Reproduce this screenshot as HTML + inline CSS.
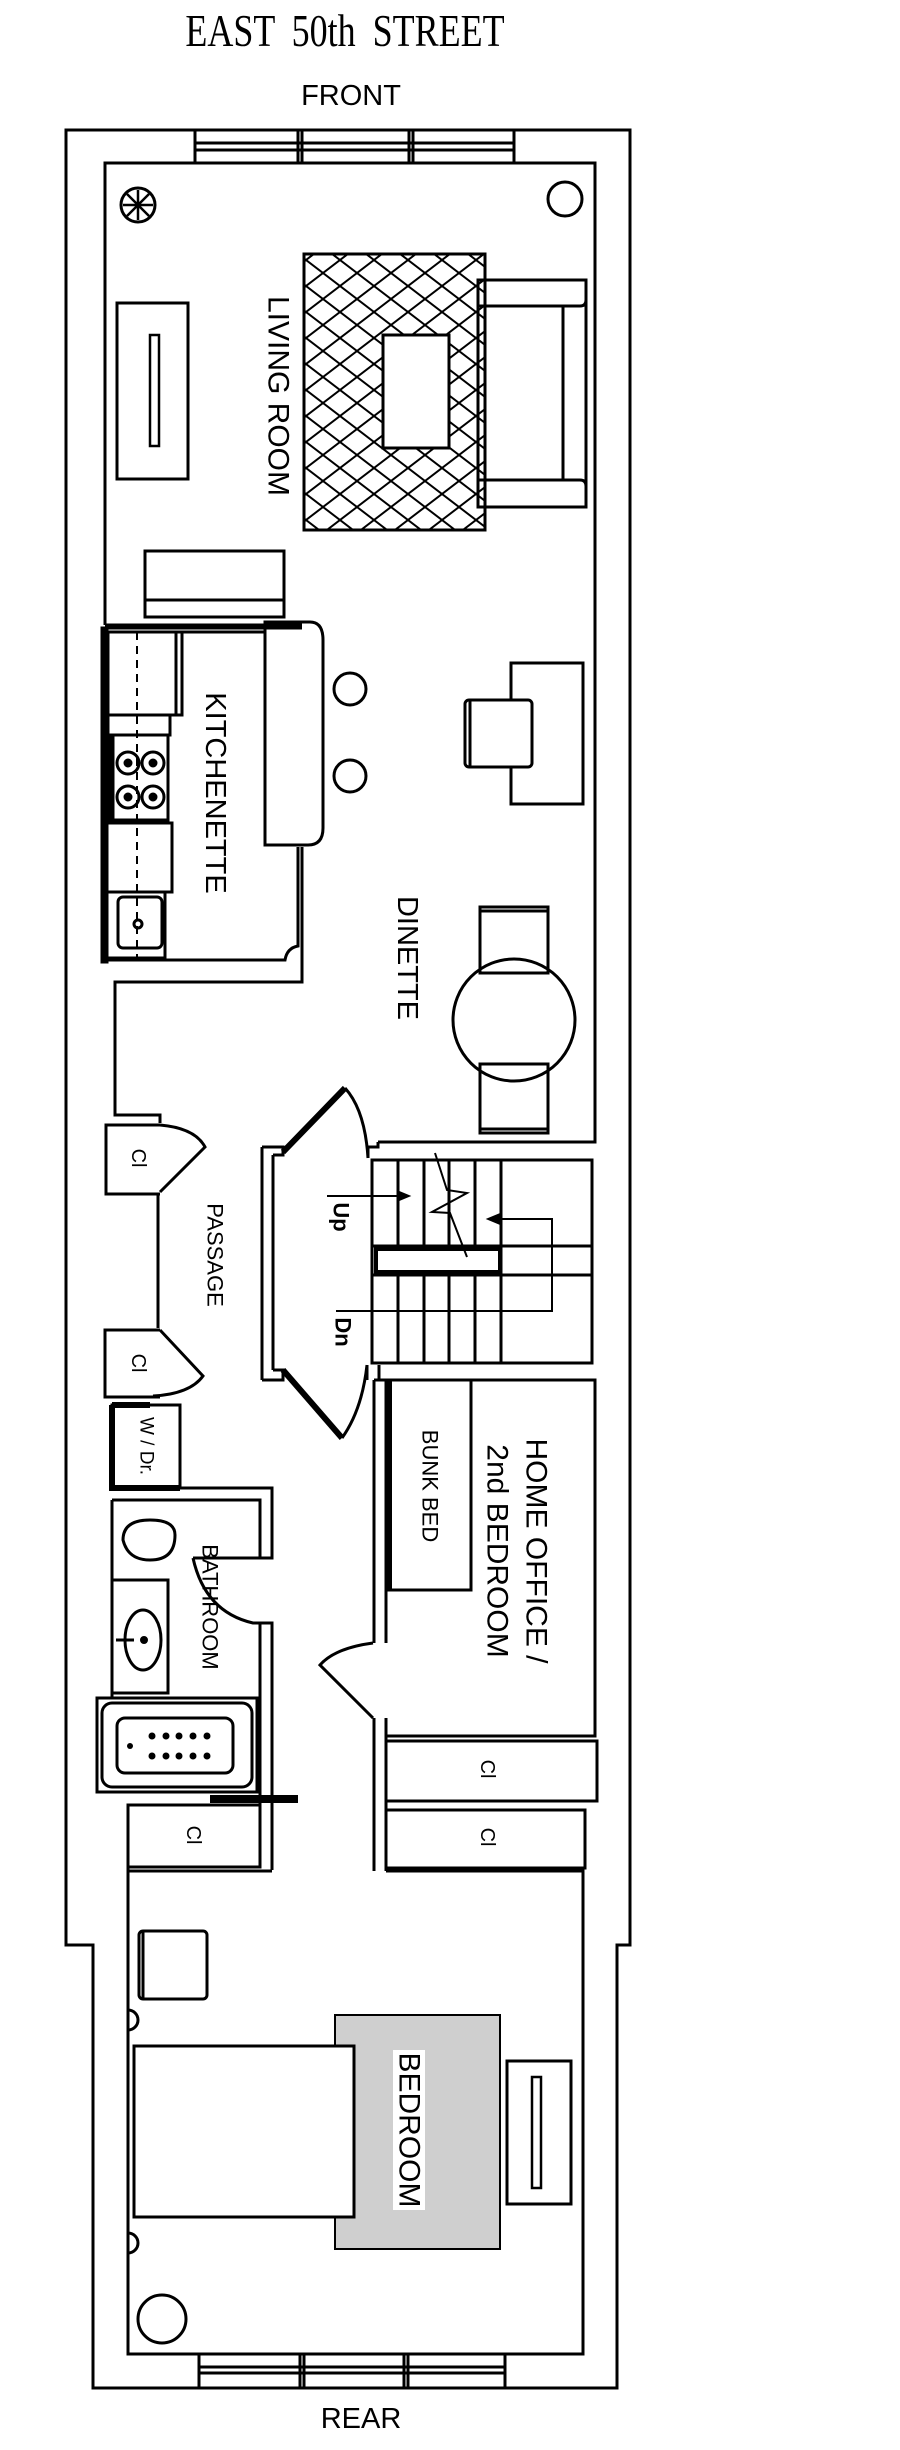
<!DOCTYPE html>
<html><head><meta charset="utf-8"><style>
html,body{margin:0;padding:0;background:#fff;}
svg{display:block;}
text{font-family:"Liberation Sans",sans-serif;fill:#000;}
</style></head><body>
<svg width="900" height="2450" viewBox="0 0 900 2450" xmlns="http://www.w3.org/2000/svg">
<defs>
<pattern id="hatch" width="34" height="26" patternUnits="userSpaceOnUse">
<path d="M0 0 L34 26 M34 0 L0 26 M-17 13 L0 26 M34 0 L51 13" stroke="#000" stroke-width="2" fill="none"/>
</pattern>
</defs>
<g fill="none" stroke="#000" stroke-width="3" stroke-linejoin="miter">

<!-- outer walls -->
<path d="M195 130 L66 130 L66 1945 L93 1945 L93 2388 L199 2388"/>
<path d="M514 130 L630 130 L630 1945 L617 1945 L617 2388 L505 2388"/>
<!-- front window -->
<rect x="195" y="130" width="319" height="33"/>
<path d="M195 143 L514 143 M195 150 L514 150 M298 130 L298 163 M302 130 L302 163 M409 130 L409 163 M413 130 L413 163"/>
<!-- rear window -->
<rect x="199" y="2354" width="306" height="34"/>
<path d="M199 2367 L505 2367 M199 2373 L505 2373 M300 2354 L300 2388 M304 2354 L304 2388 M404 2354 L404 2388 M408 2354 L408 2388"/>

<!-- living room inner -->
<path d="M105 625 L105 163 L595 163 L595 1142 L378 1142"/>
<path d="M105 625 L302 625"/>
<!-- plant -->
<circle cx="138" cy="205" r="17"/>
<path d="M138 190 L138 220 M123 205 L153 205 M127 194 L149 216 M149 194 L127 216" stroke-width="2.5"/>
<circle cx="565" cy="199" r="17"/>
<!-- rug -->
<rect x="304" y="254" width="181" height="276" fill="url(#hatch)"/>
<rect x="383" y="335" width="66" height="113" fill="#fff"/>
<!-- sofa -->
<path d="M478 280 L586 280 L586 507 L478 507 Z M478 306 L580 306 Q586 306 586 300 M478 480 L580 480 Q586 480 586 486 M563 306 L563 480"/>
<!-- tv console -->
<rect x="117" y="303" width="71" height="176"/>
<rect x="150" y="335" width="9" height="111" stroke-width="2.5"/>
<!-- bench -->
<rect x="145" y="551" width="139" height="66"/>
<path d="M145 600 L284 600"/>

<!-- kitchen -->
<path d="M102 628 L302 628 M102 632 L265 632"/>
<rect x="102" y="628" width="5" height="334" fill="#000"/>
<path d="M265 622 L310 622 Q323 622 323 640 L323 828 Q323 845 308 845 L265 845 Z"/>
<rect x="108" y="632" width="74" height="83"/>
<path d="M176 632 L176 715"/>
<rect x="108" y="715" width="62" height="20"/>
<rect x="108" y="735" width="60" height="85"/>
<rect x="105" y="735" width="8" height="85" fill="#000"/>
<circle cx="128" cy="763" r="11"/><circle cx="153" cy="763" r="11"/><circle cx="128" cy="797" r="11"/><circle cx="153" cy="797" r="11"/>
<circle cx="128" cy="763" r="3" fill="#000"/><circle cx="153" cy="763" r="3" fill="#000"/><circle cx="128" cy="797" r="3" fill="#000"/><circle cx="153" cy="797" r="3" fill="#000"/>
<rect x="107" y="823" width="65" height="69"/>
<rect x="107" y="892" width="58" height="66"/>
<rect x="118" y="897" width="44" height="51" rx="5"/>
<circle cx="138" cy="924" r="4"/>
<path d="M137 632 L137 960" stroke-dasharray="8 6" stroke-width="2"/>
<path d="M102 960 L285 960 Q287 948 298 946 L298 847 M302 847 L302 982 L115 982 L115 1115 L160 1115 L160 1123"/>

<!-- stools, desk -->
<circle cx="350" cy="689" r="16"/><circle cx="350" cy="776" r="16"/>
<rect x="511" y="663" width="72" height="141"/>
<rect x="465" y="700" width="67" height="67" rx="4" fill="#fff"/>
<path d="M470 700 L470 767"/>
<!-- dinette table -->
<rect x="480" y="907" width="68" height="66"/>
<rect x="480" y="1064" width="68" height="69"/>
<path d="M480 911 L548 911 M480 1129 L548 1129"/>
<circle cx="514" cy="1020" r="61"/>

<!-- closets along passage -->
<path d="M160 1125 L106 1125 L106 1194 L160 1194"/>
<path d="M160 1125 Q195 1128 205 1147 L160 1192"/>
<path d="M158 1194 L158 1328"/>
<path d="M160 1330 L105 1330 L105 1397 L160 1397"/>
<path d="M160 1330 L203 1376 Q190 1394 153 1396"/>
<!-- W/Dr -->
<rect x="112" y="1405" width="68" height="83"/>
<path d="M112 1405 L112 1488 L180 1488" stroke-width="6"/>
<path d="M112 1405 L150 1405" stroke-width="6"/>

<!-- stairs enclosure -->
<path d="M368 1158 L368 1147 L378 1147 L378 1142"/>
<path d="M262 1147 L262 1380 M273 1155 L273 1370 M262 1147 L283 1147 L283 1155 L273 1155 M262 1380 L283 1380 L283 1370 L273 1370"/>
<path d="M283 1152 L345 1088" stroke-width="6"/>
<path d="M345 1088 Q365 1110 368 1158"/>
<path d="M283 1370 L342 1438" stroke-width="6"/>
<path d="M342 1438 Q362 1410 367 1365"/>
<rect x="372" y="1160" width="220" height="203"/>
<path d="M398 1160 L398 1363 M424 1160 L424 1363 M449 1160 L449 1363 M475 1160 L475 1363 M501 1160 L501 1363"/>
<path d="M372 1246 L592 1246 M372 1275 L592 1275"/>
<rect x="376" y="1249" width="124" height="23" fill="#fff" stroke-width="4"/>
<path d="M327 1196 L405 1196" stroke-width="2"/>
<path d="M410 1196 L398 1191 L398 1201 Z" fill="#000" stroke-width="1"/>
<path d="M336 1311 L552 1311 L552 1219 L492 1219" stroke-width="2"/>
<path d="M487 1219 L499 1214 L499 1224 Z" fill="#000" stroke-width="1"/>
<path d="M435 1153 L447 1190 L467 1193 L432 1212 L450 1213 L467 1257" stroke-width="2"/>

<!-- home office -->
<path d="M367 1365 L367 1380 M379 1365 L379 1380"/>
<path d="M374 1380 L374 1643 M386 1380 L386 1643 M374 1380 L595 1380 L595 1736 L386 1736 M374 1718 L374 1871 M386 1718 L386 1871"/>
<path d="M373 1643 Q335 1648 320 1665 L373 1718"/>
<rect x="387" y="1380" width="84" height="210"/>
<path d="M389 1380 L389 1590" stroke-width="6"/>
<rect x="386" y="1741" width="211" height="60"/>
<rect x="386" y="1810" width="199" height="58"/>

<!-- bathroom -->
<path d="M112 1488 L272 1488 L272 1558 L193 1558 M112 1500 L260 1500 L260 1558"/>
<path d="M112 1500 L112 1697"/>
<path d="M193 1558 Q205 1612 253 1623 L272 1623 L272 1870 M260 1623 L260 1865"/>
<path d="M123 1540 Q123 1520 150 1520 Q175 1520 175 1535 Q175 1560 150 1560 Q128 1560 123 1540 Z"/>
<rect x="112" y="1580" width="56" height="113"/>
<ellipse cx="143" cy="1640" rx="18" ry="30"/>
<path d="M116 1640 L134 1640"/>
<circle cx="144" cy="1640" r="2.5" fill="#000"/>
<rect x="97" y="1698" width="160" height="94"/>
<rect x="102" y="1703" width="150" height="84" rx="10"/>
<rect x="117" y="1718" width="116" height="55" rx="8"/>
<g fill="#000" stroke="none">
<circle cx="152" cy="1736" r="3.5"/><circle cx="166" cy="1736" r="3.5"/><circle cx="179" cy="1736" r="3.5"/><circle cx="193" cy="1736" r="3.5"/><circle cx="207" cy="1736" r="3.5"/>
<circle cx="152" cy="1756" r="3.5"/><circle cx="166" cy="1756" r="3.5"/><circle cx="179" cy="1756" r="3.5"/><circle cx="193" cy="1756" r="3.5"/><circle cx="207" cy="1756" r="3.5"/>
<circle cx="130" cy="1746" r="3"/>
<rect x="210" y="1795" width="88" height="8"/>
</g>
<rect x="128" y="1805" width="132" height="62"/>

<!-- bedroom -->
<path d="M128 1868 L128 2354 L583 2354 L583 1868 M128 1871 L272 1871 M386 1871 L583 1871"/>
<rect x="139" y="1931" width="68" height="68" rx="4"/>
<path d="M143 1931 L143 1999"/>
<path d="M128 2010 A10 10 0 0 1 128 2030"/>
<path d="M128 2233 A10 10 0 0 1 128 2253"/>
<rect x="335" y="2015" width="165" height="234" fill="#cfcfcf" stroke-width="2"/>
<rect x="134" y="2046" width="220" height="171" fill="#fff"/>
<rect x="393" y="2050" width="32" height="160" fill="#fff" stroke="none"/>
<rect x="507" y="2061" width="64" height="143"/>
<rect x="532" y="2077" width="9" height="111" stroke-width="2.5"/>
<circle cx="162" cy="2319" r="24"/>
</g>

<!-- text -->
<text x="345" y="45" text-anchor="middle" font-size="36" transform="translate(0,-10) scale(1,1.25)" style="font-family:'Liberation Serif',serif" word-spacing="8">EAST 50th STREET</text>
<text x="351" y="105" text-anchor="middle" font-size="29">FRONT</text>
<text x="361" y="2428" text-anchor="middle" font-size="29">REAR</text>

<g dominant-baseline="central" text-anchor="middle">
<text transform="translate(278,396) rotate(90)" font-size="30">LIVING ROOM</text>
<text transform="translate(215,793) rotate(90)" font-size="29">KITCHENETTE</text>
<text transform="translate(407,958) rotate(90)" font-size="29">DINETTE</text>
<text transform="translate(215,1255) rotate(90)" font-size="22">PASSAGE</text>
<text transform="translate(138,1158) rotate(90)" font-size="20">Cl</text>
<text transform="translate(138,1363) rotate(90)" font-size="20">Cl</text>
<text transform="translate(146,1446) rotate(90)" font-size="19">W / Dr.</text>
<text transform="translate(341,1217) rotate(90)" font-size="22" font-weight="bold">Up</text>
<text transform="translate(343,1332) rotate(90)" font-size="22" font-weight="bold">Dn</text>
<text transform="translate(430,1486) rotate(90)" font-size="22">BUNK BED</text>
<text transform="translate(536,1551) rotate(90)" font-size="30">HOME OFFICE /</text>
<text transform="translate(497,1551) rotate(90)" font-size="30">2nd BEDROOM</text>
<text transform="translate(210,1607) rotate(90)" font-size="22">BATHROOM</text>
<text transform="translate(487,1769) rotate(90)" font-size="20">Cl</text>
<text transform="translate(487,1837) rotate(90)" font-size="20">Cl</text>
<text transform="translate(193,1835) rotate(90)" font-size="20">Cl</text>
<text transform="translate(409,2130) rotate(90)" font-size="30">BEDROOM</text>
</g>
</svg>
</body></html>
